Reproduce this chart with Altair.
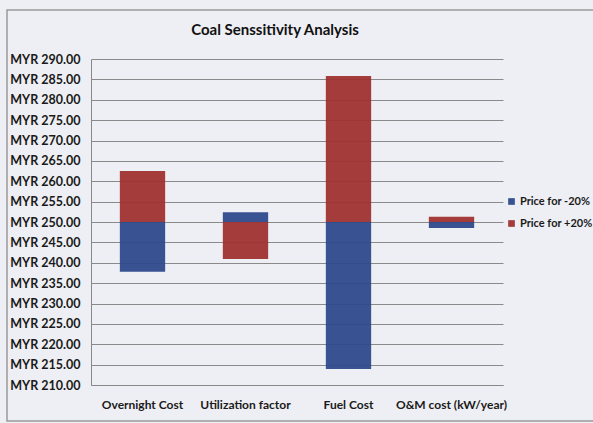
import altair as alt
import pandas as pd

title_text = "Coal Senssitivity Analysis"
categories = ["Overnight Cost", "Utilization factor", "Fuel Cost", "O&M cost (kW/year)"]
base_value = 250.0
minus20 = [237.8, 252.4, 213.9, 248.5]   # Price for -20%
plus20 = [262.5, 240.9, 285.8, 251.3]    # Price for +20%
series_names = ["Price for -20%", "Price for +20%"]
colors = ["#2e4a8c", "#a03232"]

rows = []
for c, m, p in zip(categories, minus20, plus20):
    rows.append({"cat": c, "series": series_names[0], "start": base_value, "end": m})
    rows.append({"cat": c, "series": series_names[1], "start": base_value, "end": p})
df = pd.DataFrame(rows)

FONT = "Lato"

bars = alt.Chart(df).mark_bar(opacity=0.95).encode(
    x=alt.X("cat:N", sort=categories, title=None,
            scale=alt.Scale(paddingInner=0.56, paddingOuter=0.28),
            axis=alt.Axis(labelAngle=0, labelFont=FONT, labelFontSize=12,
                          labelFontWeight="bold", labelColor="#1a1a1a",
                          labelPadding=14, ticks=False, domainColor="#888888")),
    y=alt.Y("start:Q", title=None,
            scale=alt.Scale(domain=[210, 290], nice=False, zero=False),
            axis=alt.Axis(values=list(range(210, 291, 5)),
                          labelExpr="'MYR ' + format(datum.value, '.2f')",
                          labelFont=FONT, labelFontSize=12.5, labelFontWeight="bold",
                          labelColor="#1a1a1a", labelPadding=11, ticks=False,
                          gridColor="#8a8a8a", gridWidth=1, domainColor="#888888")),
    y2="end:Q",
    color=alt.Color("series:N", sort=series_names,
                    scale=alt.Scale(domain=series_names, range=colors),
                    legend=alt.Legend(title=None, orient="none", legendX=415, legendY=137,
                                      symbolType="square", symbolSize=45,
                                      labelFont=FONT, labelFontSize=11,
                                      labelFontWeight="bold", labelColor="#1a1a1a",
                                      labelOffset=3, rowPadding=10, padding=0,
                                      symbolStrokeWidth=0)),
)

border = alt.Chart(pd.DataFrame({"b": [0]})).mark_rect(
    fill=None, stroke="#9a9a9a", strokeWidth=1.5
).encode(x=alt.value(-84), x2=alt.value(520), y=alt.value(-49), y2=alt.value(362))

title = alt.Chart(pd.DataFrame({"t": [title_text]})).mark_text(
    font=FONT, fontSize=15, fontWeight="bold", color="#111111",
    align="center", baseline="middle"
).encode(text="t:N", x=alt.value(184), y=alt.value(-29))

chart = alt.layer(border, bars, title).properties(
    width=412, height=326,
    padding={"left": 91, "top": 59, "right": 90, "bottom": 38},
    autosize=alt.AutoSizeParams(type="none"),
    background="#eeeff4",
).configure_view(stroke=None)

chart.save("out.html", embed_options={"renderer": "svg", "actions": False})
